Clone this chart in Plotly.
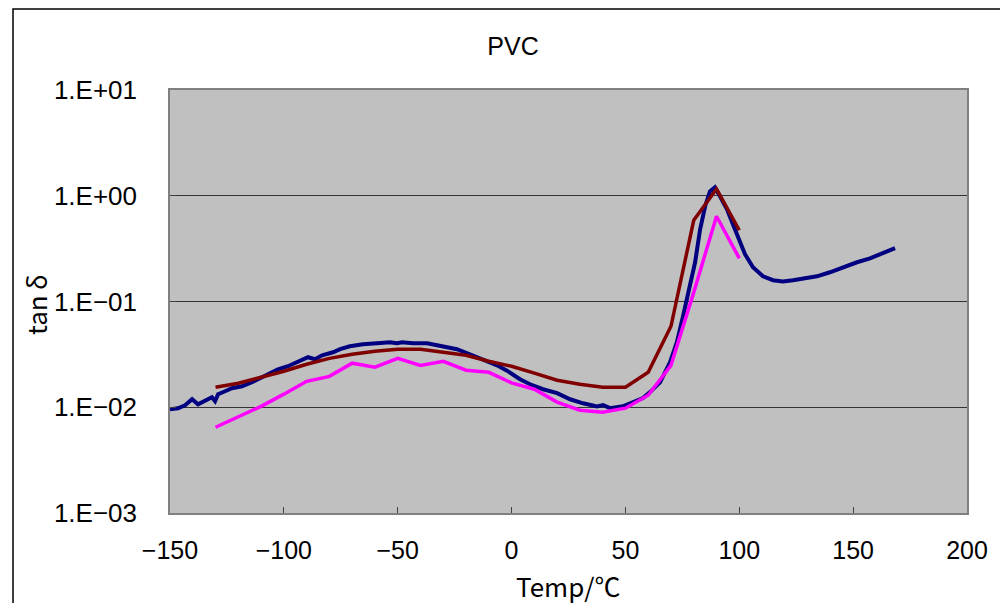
import plotly.graph_objects as go

# --- data ---
blue_T = [-150, -146.5, -143.4, -140.3, -137.7, -134.6, -131.6, -130.2, -128.9, -125.8,
          -122.8, -118.4, -114.0, -109.6, -107.0, -102.6, -98.2, -93.8, -89.4, -86.3,
          -83.2, -78.4, -75.3, -71.0, -65.2, -59.1, -53.4, -50.3, -48.1, -43.3,
          -37.1, -32.7, -28.4, -24.0, -18.3, -12.5, -6.4, -2.0, 3.7, 8.1,
          13.8, 20.0, 25.7, 31.4, 37.5, 40.2, 43.2, 48.9, 53.3, 57.7,
          60.8, 65.2, 69.6, 72.6, 75.3, 78.4, 80.6, 82.8, 85.0, 87.1,
          89.3, 91.5, 94.6, 97.2, 100.3, 102.5, 106.0, 110.4, 114.8, 119.2,
          123.6, 128.0, 134.1, 139.8, 145.6, 151.7, 157.4, 163.1, 168.4]
blue_tan = [0.00957, 0.00979, 0.01045, 0.01191, 0.01067, 0.01164, 0.01244, 0.01140, 0.01327, 0.01416,
            0.01512, 0.01580, 0.01722, 0.01922, 0.02051, 0.02287, 0.02443, 0.02666, 0.02973, 0.02844,
            0.03103, 0.03311, 0.0354, 0.0377, 0.0394, 0.0403, 0.0412, 0.0403, 0.0412, 0.0403,
            0.0403, 0.0386, 0.0369, 0.0354, 0.0317, 0.0284, 0.0249, 0.0222, 0.0184, 0.0165,
            0.0148, 0.0136, 0.0119, 0.0109, 0.0102, 0.0105, 0.0098, 0.0102, 0.0112, 0.0122,
            0.0139, 0.0172, 0.0267, 0.0412, 0.0726, 0.152, 0.235, 0.482, 0.796, 1.10,
            1.20, 0.99, 0.745, 0.537, 0.363, 0.280, 0.211, 0.173, 0.159, 0.155,
            0.159, 0.166, 0.173, 0.189, 0.211, 0.235, 0.256, 0.286, 0.319]

step_T = [-130, -120, -110, -100, -90, -80, -70, -60, -50, -40, -30, -20, -10, 0,
          10, 20, 30, 40, 50, 60, 70, 80, 90, 100]
red_tan = [0.01545, 0.01686, 0.0192, 0.0219, 0.0255, 0.0290, 0.0317, 0.0339, 0.0353, 0.0353,
           0.0331, 0.0310, 0.0272, 0.0244, 0.0210, 0.0180, 0.0165, 0.01545, 0.01545, 0.0214,
           0.0583, 0.586, 1.16, 0.472]
pink_tan = [0.00647, 0.00804, 0.0102, 0.0133, 0.0176, 0.0196, 0.0261, 0.0239, 0.0290, 0.0249,
            0.0272, 0.0224, 0.0214, 0.0170, 0.0148, 0.0112, 0.00937, 0.00897, 0.0098, 0.0130,
            0.0249, 0.122, 0.64, 0.256]

x_ticks = [-150, -100, -50, 0, 50, 100, 150, 200]
y_ticks = [1e-3, 1e-2, 1e-1, 1e0, 1e1]
y_ticktext = ["1.E\u221203", "1.E\u221202", "1.E\u221201", "1.E+00", "1.E+01"]

FONT = "Liberation Sans"
CJK = "Noto Sans CJK JP"

# plot area in page pixels (page has an 8px body offset)
L, R, T, B = 162, 49, 82, 98
PW, PH = 1008 - L - R, 603 - T - B

fig = go.Figure()
fig.add_trace(go.Scatter(x=blue_T, y=blue_tan, mode="lines",
                         line=dict(color="#000080", width=4), showlegend=False))
fig.add_trace(go.Scatter(x=step_T, y=red_tan, mode="lines",
                         line=dict(color="#800000", width=3.5), showlegend=False))
fig.add_trace(go.Scatter(x=step_T, y=pink_tan, mode="lines",
                         line=dict(color="#FF00FF", width=3.5), showlegend=False))

fig.update_layout(
    width=1008, height=603,
    margin=dict(l=L, r=R, t=T, b=B),
    paper_bgcolor="white",
    plot_bgcolor="#C0C0C0",
    font=dict(family=FONT, size=24, color="black"),
    title=dict(text="PVC", x=(513 - 8) / 1008, xref="container", xanchor="center",
               y=1 - (46 - 8) / 603, yref="container", yanchor="middle",
               font=dict(family=FONT, size=25)),
    xaxis=dict(range=[-150, 200], tickmode="array", tickvals=x_ticks,
               showgrid=False, zeroline=False,
               ticks="inside", ticklen=6, tickcolor="#404040",
               showline=True, linecolor="#808080", linewidth=1.5, mirror=True,
               ticklabelstandoff=14, tickfont=dict(size=25)),
    yaxis=dict(type="log", range=[-3, 1], tickmode="array", tickvals=y_ticks,
               ticktext=y_ticktext,
               showgrid=True, gridcolor="#333333", gridwidth=1,
               zeroline=False,
               ticks="inside", ticklen=6, tickcolor="#404040",
               showline=True, linecolor="#808080", linewidth=1.5, mirror=True,
               ticklabelstandoff=26, tickfont=dict(size=26)),
    annotations=[
        dict(text="tan\u2009\u03b4", xref="paper", yref="paper",
             x=(35 - 170) / PW, y=(513 - 305) / PH, xanchor="center", yanchor="middle",
             textangle=-90, showarrow=False, font=dict(family=CJK, size=26)),
        dict(text="Temp/\u2103", xref="paper", yref="paper",
             x=(568 - 170) / PW, y=(513 - 585) / PH, xanchor="center", yanchor="middle",
             showarrow=False, font=dict(family=CJK, size=26)),
    ],
    shapes=[dict(type="rect", xref="paper", yref="paper",
                 x0=(13 - 170) / PW, x1=(1020 - 170) / PW,
                 y0=(513 - 620) / PH, y1=(513 - 9) / PH,
                 line=dict(color="black", width=1.5), layer="below")],
)

fig.write_html("out.html")
